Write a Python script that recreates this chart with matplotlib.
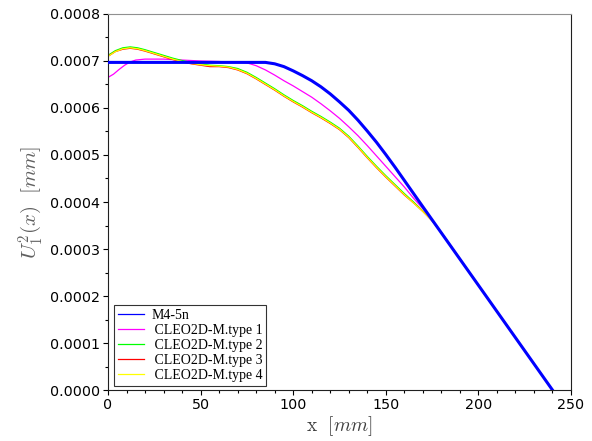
import matplotlib
matplotlib.use("Agg")
import matplotlib.pyplot as plt
from matplotlib.ticker import MultipleLocator, FormatStrFormatter
import numpy as np

# --- DATA (values in units of 1e-4 mm) ---
blue_x = [0, 40, 85, 90, 95, 100, 105, 110, 115, 120, 125, 130, 135, 140, 145,
          150, 155, 160, 170, 200, 240]
blue_y = [6.97, 6.97, 6.97, 6.94, 6.88, 6.79, 6.69, 6.58, 6.45, 6.30, 6.13, 5.95, 5.74, 5.51, 5.27,
          5.01, 4.74, 4.46, 3.90, 2.23, 0.0]

type1_x = [0, 3, 6, 9, 12, 15, 20, 30, 40, 50, 60, 65, 70, 75, 80, 85, 90, 95, 100,
           105, 110, 115, 120, 125, 130, 135, 140, 145, 150, 155, 160, 165, 170, 175, 180, 200, 240]
type1_y = [6.65, 6.72, 6.82, 6.91, 6.98, 7.02, 7.04, 7.04, 7.02, 7.00, 6.99, 6.97, 6.98, 6.96, 6.90, 6.81, 6.70, 6.58, 6.47,
           6.35, 6.23, 6.09, 5.94, 5.78, 5.60, 5.41, 5.20, 4.98, 4.76, 4.54, 4.32, 4.08, 3.86, 3.62, 3.35, 2.23, 0.0]

type2_x = [0, 4, 8, 12, 16, 20, 25, 30, 35, 40, 45, 50, 55, 60, 65, 70, 75, 80, 85, 90, 95, 100,
           105, 110, 115, 120, 125, 130, 135, 140, 145, 150, 155, 160, 165, 170, 175, 180, 200, 240]
type2_y = [7.12, 7.22, 7.28, 7.30, 7.28, 7.24, 7.18, 7.12, 7.06, 7.01, 6.97, 6.94, 6.91, 6.90, 6.88, 6.84, 6.76, 6.65, 6.53, 6.41, 6.28, 6.16,
           6.05, 5.93, 5.82, 5.70, 5.57, 5.40, 5.19, 4.97, 4.76, 4.56, 4.37, 4.18, 4.00, 3.81, 3.61, 3.35, 2.23, 0.0]

type3_x = [0, 4, 8, 12, 16, 20, 25, 30, 35, 40, 45, 50, 55, 60, 65, 70, 75, 80, 85, 90, 95, 100,
           105, 110, 115, 120, 125, 130, 135, 140, 145, 150, 155, 160, 165, 170, 175, 180, 200, 240]
type3_y = [7.10, 7.20, 7.25, 7.27, 7.25, 7.21, 7.15, 7.09, 7.03, 6.98, 6.94, 6.91, 6.88, 6.88, 6.86, 6.81, 6.73, 6.62, 6.50, 6.38, 6.25, 6.13,
           6.02, 5.90, 5.79, 5.67, 5.54, 5.37, 5.16, 4.94, 4.73, 4.53, 4.34, 4.15, 3.98, 3.80, 3.60, 3.35, 2.23, 0.0]

type4_x = [0, 4, 8, 12, 16, 20, 25, 30, 35, 40, 45, 50, 55, 60, 65, 70, 75, 80, 85, 90, 95, 100,
           105, 110, 115, 120, 125, 130, 135, 140, 145, 150, 155, 160, 165, 170, 175, 180, 200, 240]
type4_y = [7.10, 7.20, 7.26, 7.28, 7.26, 7.22, 7.16, 7.10, 7.04, 6.99, 6.95, 6.92, 6.90, 6.89, 6.87, 6.82, 6.74, 6.63, 6.51, 6.39, 6.26, 6.14,
           6.03, 5.91, 5.80, 5.68, 5.55, 5.38, 5.17, 4.95, 4.74, 4.54, 4.35, 4.16, 3.98, 3.80, 3.60, 3.35, 2.23, 0.0]

labels = ["M4-5n", " CLEO2D-M.type 1", " CLEO2D-M.type 2",
          " CLEO2D-M.type 3", " CLEO2D-M.type 4"]

plt.rcParams['mathtext.fontset'] = 'cm'

fig = plt.figure(figsize=(5.92, 4.41), dpi=100)
ax = fig.add_axes([0.1824, 0.1156, 0.7821, 0.8527])

scale = 1e-4
ax.plot(type1_x, np.array(type1_y) * scale, color='#ff00ff', lw=0.9, label=labels[1], zorder=2)
ax.plot(type2_x, np.array(type2_y) * scale, color='#00ff00', lw=0.9, label=labels[2], zorder=2)
ax.plot(type3_x, np.array(type3_y) * scale, color='#ff0000', lw=0.9, label=labels[3], zorder=2)
ax.plot(type4_x, np.array(type4_y) * scale, color='#ffff00', lw=0.9, label=labels[4], zorder=2)
ax.plot(blue_x, np.array(blue_y) * scale, color='#0000ff', lw=2.2, label=labels[0], zorder=3)

ax.set_xlim(0, 250)
ax.set_ylim(0, 0.0008)
ax.xaxis.set_major_locator(MultipleLocator(50))
ax.xaxis.set_minor_locator(MultipleLocator(10))
ax.yaxis.set_major_locator(MultipleLocator(0.0001))
ax.yaxis.set_minor_locator(MultipleLocator(0.00005))
ax.yaxis.set_major_formatter(FormatStrFormatter('%.4f'))
ax.tick_params(which='major', direction='out', length=3.5, width=0.8, labelsize=10.3, pad=2)
ax.tick_params(which='minor', direction='out', length=2.5, width=0.8)

ax.spines['top'].set_color('#909090')
for s in ['left', 'bottom', 'right']:
    ax.spines[s].set_color('#202020')

ax.set_xlabel(r'$\mathrm{x}\ \ [mm]$', fontsize=14, color='#404040', labelpad=2)
ax.set_ylabel(r'$U_1^2(x)\ \ [mm]$', fontsize=15, color='#606060', labelpad=4)

handles, labs = ax.get_legend_handles_labels()
order = [4, 0, 1, 2, 3]
leg = ax.legend([handles[i] for i in order], [labs[i] for i in order],
                loc='lower left', bbox_to_anchor=(0.014, 0.012),
                prop={'family': 'Liberation Serif', 'size': 10},
                frameon=True, fancybox=False, edgecolor='black',
                handlelength=1.9, handletextpad=0.5, labelspacing=0.15,
                borderpad=0.25, borderaxespad=0)
leg.get_frame().set_linewidth(0.8)
for line in leg.get_lines():
    line.set_linewidth(0.9)

fig.savefig('out.png', dpi=100)
